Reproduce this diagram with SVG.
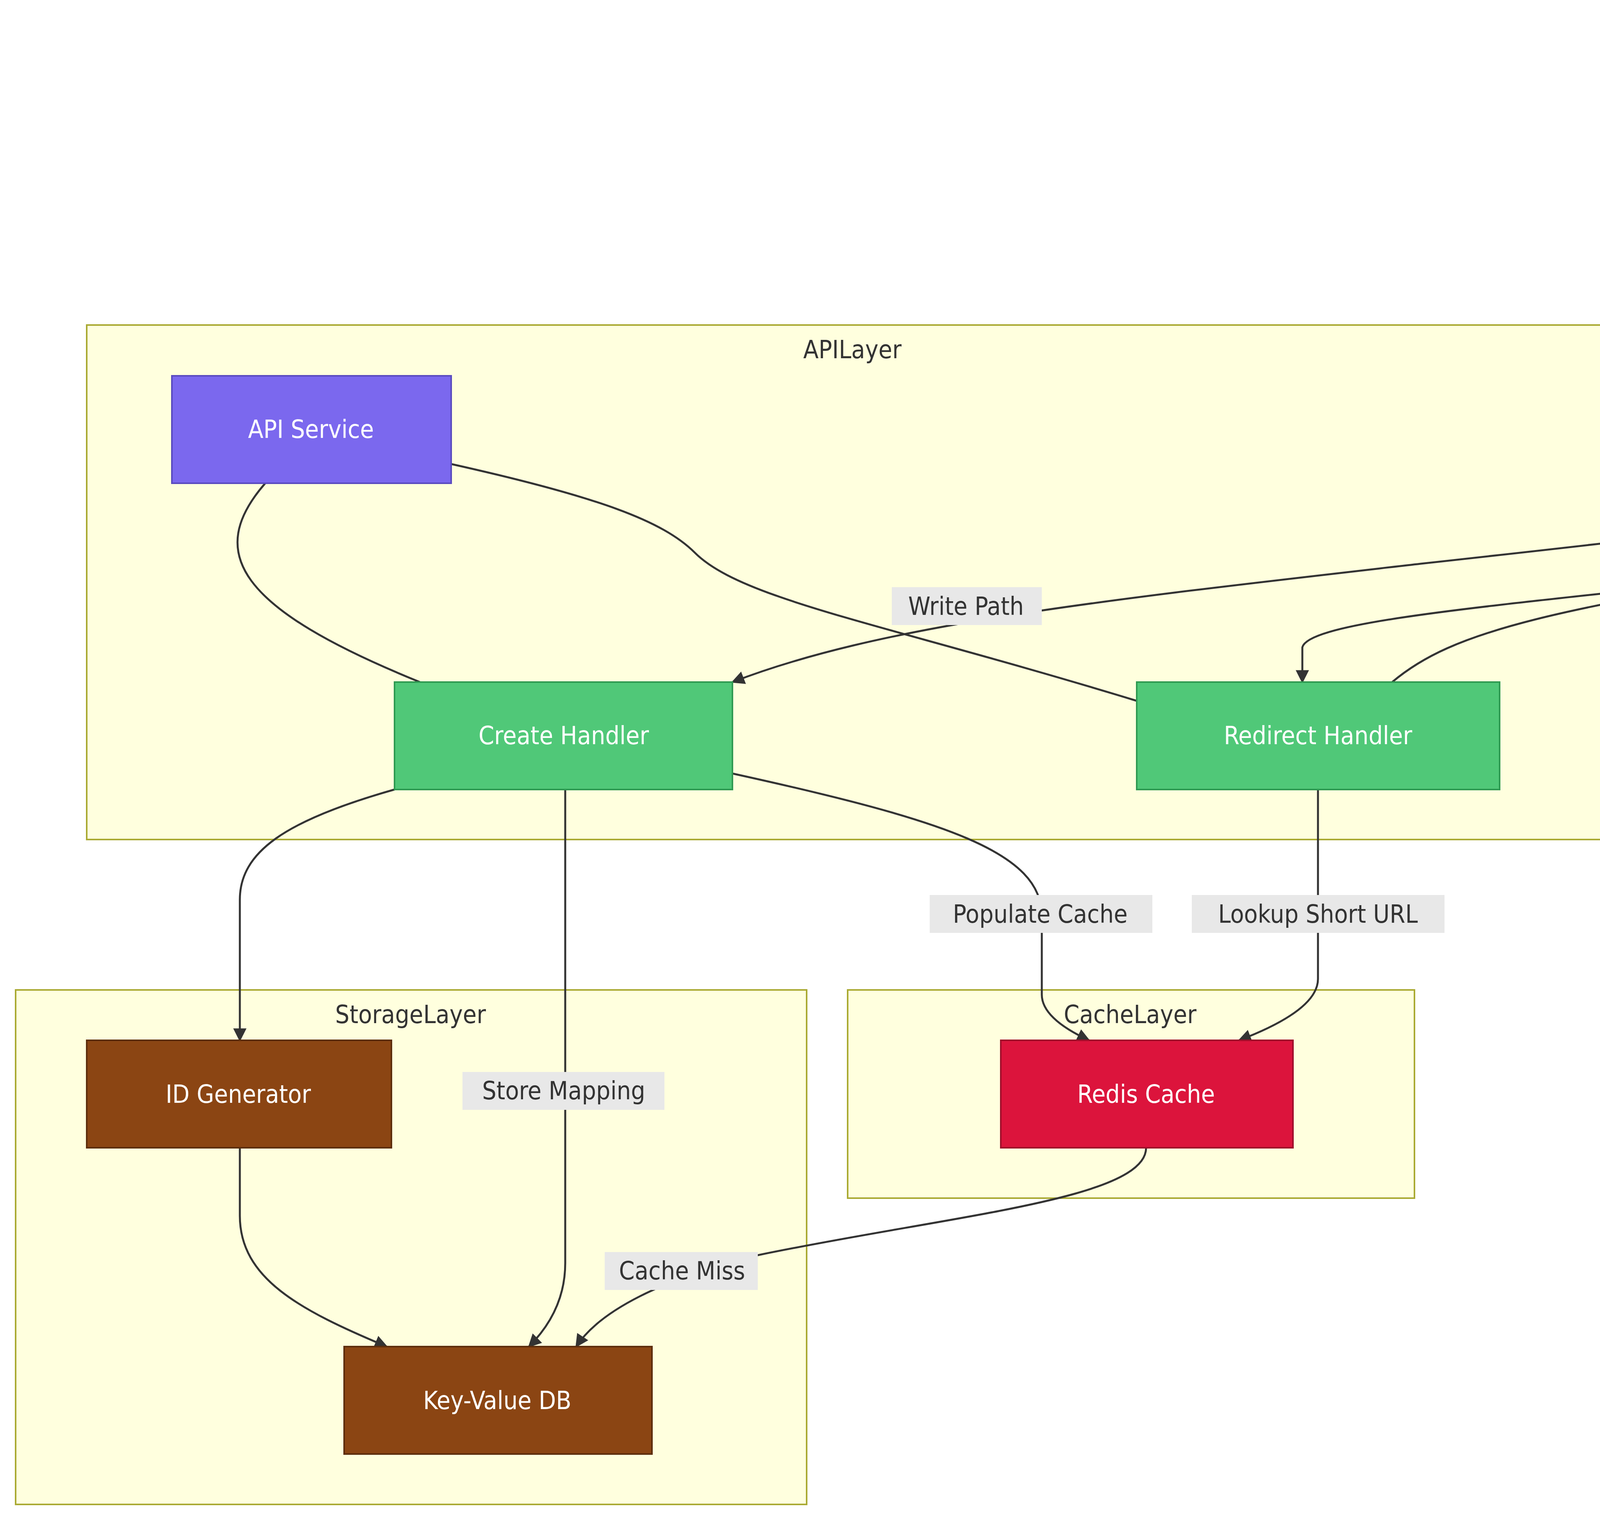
<svg xmlns="http://www.w3.org/2000/svg" width="6272" height="3896" viewBox="0 0 6272 3896">
<style>
.grp{fill:#ffffde;stroke:#aaaa33;stroke-width:4}
.gt{font-family:"DejaVu Sans Condensed","DejaVu Sans",sans-serif;font-size:64px;fill:#333;text-anchor:middle}
.nt{font-family:"DejaVu Sans Condensed","DejaVu Sans",sans-serif;font-size:64px;fill:#fff;text-anchor:middle;dominant-baseline:central}
.lt{font-family:"DejaVu Sans Condensed","DejaVu Sans",sans-serif;font-size:64px;fill:#333;text-anchor:middle;dominant-baseline:central}
.lb{fill:#e8e8e8}
.e{fill:none;stroke:#333;stroke-width:5}
.n{stroke-width:4}
</style>
<defs><marker id="a" viewBox="0 0 10 10" refX="9" refY="5" markerWidth="34" markerHeight="34" markerUnits="userSpaceOnUse" orient="auto"><path d="M0,0L10,5L0,10z" fill="#333"/></marker></defs>
<rect width="6272" height="3896" fill="#fff"/>
<g id="Clients"><rect class="grp" x="4114" y="40" width="2118" height="533"/><text class="gt" x="5197" y="125">Clients</text></g>
<g id="LoadBalancing"><rect class="grp" x="4247" y="832" width="1754" height="533"/><text class="gt" x="5124" y="917">LoadBalancing</text></g>
<g id="APILayer"><rect class="grp" x="222" y="832" width="3920" height="1317"/><text class="gt" x="2182" y="917">APILayer</text></g>
<g id="StorageLayer"><rect class="grp" x="40" y="2534" width="2025" height="1317"/><text class="gt" x="1051" y="2619">StorageLayer</text></g>
<g id="CacheLayer"><rect class="grp" x="2170" y="2534" width="1451" height="533"/><text class="gt" x="2893" y="2619">CacheLayer</text></g>

<g id="connectors">
<path class="e" marker-end="url(#a)" d="M4647,445 L4647,687 Q4647,808 4769,881 L4946,962"/>
<path class="e" marker-end="url(#a)" d="M5650,445 L5650,707 Q5650,808 5577,881 L5504,962"/>
<path class="e" marker-end="url(#a)" d="M4955,1237 C4809,1313 4445,1354 3637,1443 C2829,1536 2263,1596 1875,1746"/>
<path class="e" marker-end="url(#a)" d="M5415,1237 C5496,1334 5375,1374 4849,1435 C4041,1536 3354,1576 3334,1657 L3334,1746"/>
<path class="e" marker-end="url(#a)" d="M3564,1746 C3718,1616 3960,1556 4849,1422 C5415,1334 5658,1293 5536,1237"/>
<path class="e" d="M679,1237 C525,1414 606,1556 1075,1746"/>
<path class="e" d="M1156,1188 C1536,1273 1697,1334 1778,1414 C1899,1536 2263,1596 2910,1794"/>
<path class="e" marker-end="url(#a)" d="M1010,2021 C727,2101 614,2182 614,2303 L614,2663"/>
<path class="e" marker-end="url(#a)" d="M1447,2021 L1447,3233 Q1447,3354 1354,3447"/>
<path class="e" marker-end="url(#a)" d="M1875,1980 C2425,2101 2667,2182 2667,2344 L2667,2546 Q2667,2607 2788,2663"/>
<path class="e" marker-end="url(#a)" d="M3374,2021 L3374,2506 Q3374,2586 3172,2663"/>
<path class="e" marker-end="url(#a)" d="M614,2938 L614,3112 C614,3273 768,3354 990,3447"/>
<path class="e" marker-end="url(#a)" d="M2934,2938 C2934,3071 2425,3112 1940,3213 C1697,3273 1536,3354 1475,3447"/>
<rect class="lb" x="2283" y="1503" width="384" height="97"/><text class="lt" x="2473" y="1552">Write Path</text>
<rect class="lb" x="4211" y="1414" width="348" height="97"/><text class="lt" x="4385" y="1463">Read Path</text>
<rect class="lb" x="4377" y="1414" width="570" height="97"/><text class="lt" x="4660" y="1463">301 Redirect</text>
<rect class="lb" x="2380" y="2291" width="570" height="97"/><text class="lt" x="2663" y="2340">Populate Cache</text>
<rect class="lb" x="3051" y="2291" width="647" height="97"/><text class="lt" x="3374" y="2340">Lookup Short URL</text>
<rect class="lb" x="1184" y="2744" width="517" height="97"/><text class="lt" x="1443" y="2792">Store Mapping</text>
<rect class="lb" x="1548" y="3205" width="392" height="97"/><text class="lt" x="1746" y="3253">Cache Miss</text>
</g>

<g id="WebClient"><rect class="n" x="4292" y="170" width="707" height="275" fill="#4a90d9" stroke="#2a5f96"/><text class="nt" x="4647" y="307">Web Client</text></g>
<g id="MobileClient"><rect class="n" x="5258" y="170" width="792" height="275" fill="#4a90d9" stroke="#2a5f96"/><text class="nt" x="5654" y="307">Mobile Client</text></g>
<g id="LoadBalancer"><rect class="n" x="4886" y="962" width="824" height="275" fill="#f5a623" stroke="#c67f10"/><text class="nt" x="5298" y="1099">Load Balancer</text></g>
<g id="APIService"><rect class="n" x="440" y="962" width="715" height="275" fill="#7b68ee" stroke="#5a4bc0"/><text class="nt" x="796" y="1099">API Service</text></g>
<g id="CreateHandler"><rect class="n" x="1010" y="1746" width="865" height="275" fill="#50c878" stroke="#2f9a52"/><text class="nt" x="1443" y="1883">Create Handler</text></g>
<g id="RedirectHandler"><rect class="n" x="2910" y="1746" width="929" height="275" fill="#50c878" stroke="#2f9a52"/><text class="nt" x="3374" y="1883">Redirect Handler</text></g>
<g id="IDGenerator"><rect class="n" x="222" y="2663" width="780" height="275" fill="#8b4513" stroke="#5c2d0c"/><text class="nt" x="610" y="2801">ID Generator</text></g>
<g id="KeyValueDB"><rect class="n" x="881" y="3447" width="788" height="275" fill="#8b4513" stroke="#5c2d0c"/><text class="nt" x="1273" y="3585">Key-Value DB</text></g>
<g id="RedisCache"><rect class="n" x="2562" y="2663" width="748" height="275" fill="#dc143c" stroke="#a00e2b"/><text class="nt" x="2934" y="2801">Redis Cache</text></g>
</svg>
